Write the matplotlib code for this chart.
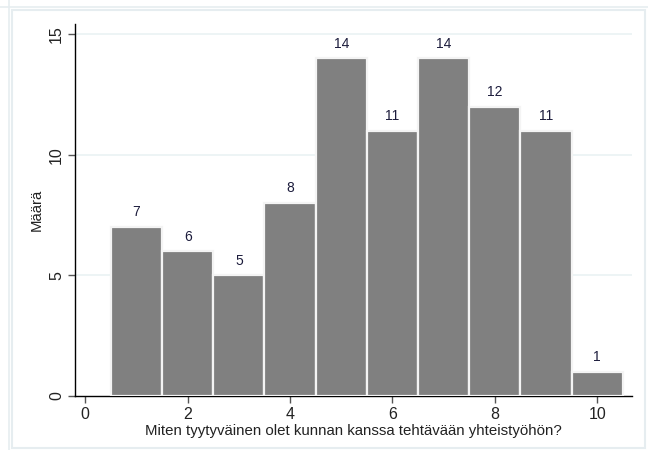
import matplotlib
matplotlib.use("Agg")
import matplotlib.pyplot as plt
from matplotlib.patches import Rectangle
from matplotlib.lines import Line2D

plt.rcParams['font.family'] = ['Liberation Sans', 'DejaVu Sans']

categories = [1, 2, 3, 4, 5, 6, 7, 8, 9, 10]
counts = [7, 6, 5, 8, 14, 11, 14, 12, 11, 1]
xticks = [0, 2, 4, 6, 8, 10]
yticks = [0, 5, 10, 15]
xlabel = "Miten tyytyväinen olet kunnan kanssa tehtävään yhteistyöhön?"
ylabel = "Määrä"

W, H = 648, 450
fig = plt.figure(figsize=(6.48, 4.5), dpi=100)
fig.patch.set_facecolor('white')

# outer frame lines
border = '#e6edf0'
fig.add_artist(Rectangle((12 / W, 2 / H), (645 - 12) / W, (440 - 2) / H,
                         transform=fig.transFigure, fill=False, edgecolor=border, lw=1.5))
fig.add_artist(Line2D([9 / W, 9 / W], [0, 1], transform=fig.transFigure, color=border, lw=1.2))
fig.add_artist(Line2D([0, 1], [443 / H, 443 / H], transform=fig.transFigure, color=border, lw=1.2))

ax = fig.add_axes([75 / W, 54 / H, (632 - 75) / W, (426 - 54) / H])
ax.set_facecolor('white')

bars = ax.bar(categories, counts, width=1.0, color='#808080', edgecolor='#f4f4f4', linewidth=1.6, zorder=3)

for x, v in zip(categories, counts):
    ax.annotate(str(v), (x, v), xytext=(0, 5.5), textcoords='offset points',
                ha='center', va='bottom', fontsize=10, color='#1c1c3c', zorder=4)

ax.set_xlim(-0.2, 10.68)
ax.set_ylim(0, 15.42)
ax.set_xticks(xticks)
ax.set_yticks(yticks)
ax.set_yticklabels([str(t) for t in yticks], rotation=90, va='center')
ax.tick_params(axis='both', labelsize=11.5, length=5, width=1, color='#555555', labelcolor='#222222')
ax.tick_params(axis='y', pad=3)
ax.tick_params(axis='x', pad=3)

for t in [5, 10, 15]:
    ax.axhline(t, color='#eaf2f3', lw=1.2, zorder=1)

ax.spines['top'].set_visible(False)
ax.spines['right'].set_visible(False)
ax.spines['left'].set_color('black')
ax.spines['bottom'].set_color('black')
ax.spines['left'].set_linewidth(1.0)
ax.spines['bottom'].set_linewidth(1.0)

ax.set_xlabel(xlabel, fontsize=10.8, color='#222222', labelpad=1)
ax.set_ylabel(ylabel, fontsize=10.8, color='#222222', labelpad=4)

fig.savefig('out.png', dpi=100)
